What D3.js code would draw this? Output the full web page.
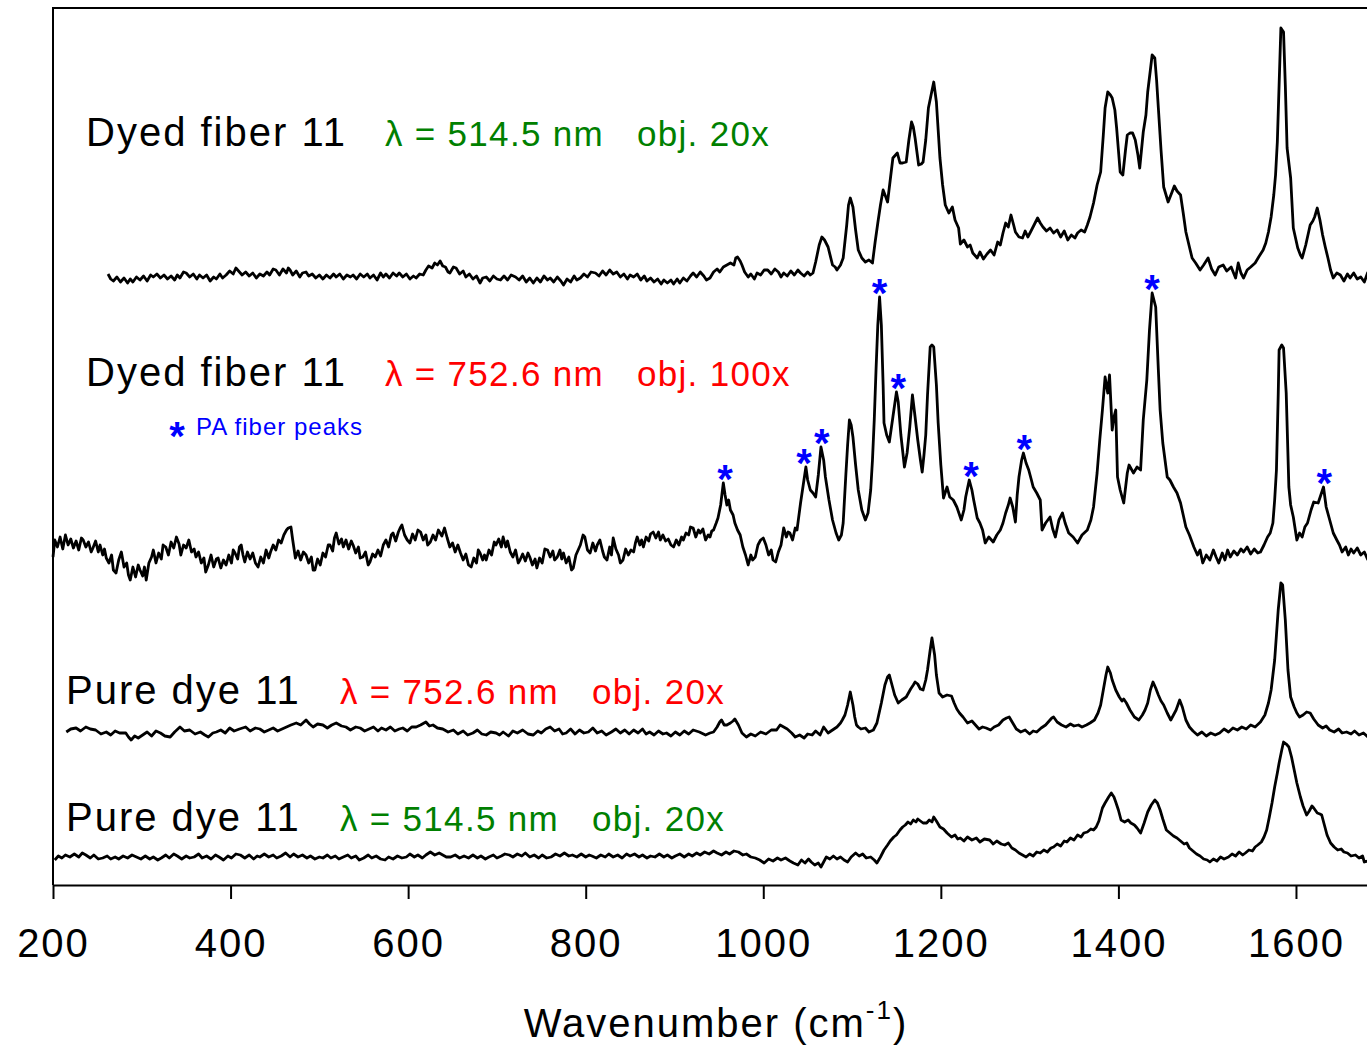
<!DOCTYPE html>
<html>
<head>
<meta charset="utf-8">
<script src="https://cdn.jsdelivr.net/npm/d3@7"></script>
<style>
  body { margin: 0; background: #fff; }
  svg { display: block; font-family: "Liberation Sans", Arial, sans-serif; }
</style>
</head>
<body>
<div id="chart"></div>
<script>
// x ticks (wavenumber, cm-1)
const xTicks = [200, 400, 600, 800, 1000, 1200, 1400, 1600];

// spectra: [wavenumber, intensity (arb. units, offset per trace)]
const fiber514 = [
  [262,611],[265,606],[268,604],[272,608],[276,603],[280,607],[284,602],[287,606],[290,603],[294,608],
  [298,605],[302,609],[306,604],[310,610],[313,608],[317,611],[321,607],[325,610],[329,606],[333,609],
  [337,605],[340,610],[343,607],[347,613],[350,612],[354,608],[358,611],[362,606],[365,610],[369,607],
  [373,610],[377,604],[381,608],[384,606],[388,611],[391,607],[395,610],[399,614],[403,611],[406,617],
  [409,614],[413,610],[417,613],[421,609],[425,612],[429,607],[433,611],[437,609],[441,613],[444,610],
  [448,616],[451,615],[455,610],[459,616],[463,612],[465,617],[467,615],[470,610],[474,614],[478,608],
  [481,612],[485,613],[488,609],[492,611],[496,607],[500,610],[504,606],[508,610],[512,607],[516,611],
  [519,608],[523,611],[527,606],[531,610],[535,608],[538,610],[542,606],[546,611],[550,608],[554,611],
  [557,607],[561,610],[565,605],[569,612],[572,608],[575,611],[579,607],[583,612],[587,609],[590,612],
  [594,608],[598,611],[602,606],[606,609],[609,607],[613,611],[617,610],[620,615],[623,619],[627,617],
  [630,622],[633,620],[636,624],[639,619],[642,618],[645,613],[647,612],[651,618],[654,617],[658,611],
  [662,614],[665,608],[669,611],[673,606],[677,609],[681,602],[684,607],[688,608],[692,604],[696,609],
  [700,606],[704,605],[708,609],[712,605],[716,610],[721,608],[725,605],[729,609],[733,603],[737,607],
  [741,602],[745,607],[749,603],[753,609],[757,605],[760,607],[764,603],[768,608],[772,604],[775,600],
  [779,606],[783,603],[787,609],[790,605],[794,607],[798,611],[802,608],[806,613],[811,612],[815,609],
  [819,614],[823,610],[827,615],[831,611],[835,613],[839,608],[843,611],[847,606],[850,610],[854,608],
  [858,611],[862,605],[866,609],[869,604],[873,607],[877,603],[881,606],[885,601],[888,605],[892,602],
  [896,605],[899,601],[903,606],[906,602],[910,607],[914,604],[918,609],[921,612],[925,608],[929,613],
  [933,609],[936,605],[940,607],[944,613],[948,616],[951,613],[955,618],[959,620],[963,622],[967,620],
  [969,627],[971,628],[974,624],[976,620],[979,613],[983,608],[986,611],[990,606],[993,612],[997,610],
  [1001,615],[1005,615],[1009,611],[1013,616],[1017,613],[1020,608],[1023,612],[1027,609],[1031,614],[1035,610],
  [1039,615],[1042,612],[1046,609],[1050,613],[1053,610],[1056,612],[1059,623],[1063,640],[1066,648],[1069,645],
  [1073,638],[1078,620],[1081,618],[1083,615],[1087,620],[1090,627],[1094,660],[1096,680],[1098,687],[1101,678],
  [1104,655],[1107,635],[1111,627],[1115,623],[1119,625],[1123,622],[1126,643],[1129,662],[1132,680],[1135,695],
  [1138,688],[1140,683],[1143,705],[1146,727],[1149,730],[1151,732],[1154,722],[1157,722],[1161,723],[1164,745],
  [1167,763],[1169,758],[1171,747],[1175,720],[1178,721],[1180,723],[1183,745],[1186,777],[1189,790],[1192,803],
  [1195,783],[1197,755],[1199,727],[1202,700],[1205,680],[1209,672],[1213,678],[1216,665],[1220,657],[1222,641],
  [1226,645],[1230,638],[1233,640],[1236,632],[1241,627],[1244,633],[1248,626],[1252,631],[1256,635],[1260,630],
  [1264,643],[1267,640],[1270,652],[1273,662],[1276,658],[1279,670],[1282,660],[1284,653],[1288,648],[1292,647],
  [1295,654],[1298,648],[1301,653],[1305,660],[1309,667],[1312,662],[1315,658],[1319,654],[1323,657],[1327,652],
  [1331,655],[1335,648],[1339,654],[1343,645],[1347,650],[1351,647],[1354,652],[1358,655],[1362,653],[1365,660],
  [1368,668],[1372,682],[1376,700],[1380,713],[1383,750],[1385,777],[1388,793],[1391,790],[1393,787],[1396,775],
  [1398,757],[1400,735],[1402,713],[1405,710],[1408,735],[1410,750],[1413,752],[1416,752],[1419,745],[1422,730],
  [1424,717],[1426,735],[1428,753],[1431,770],[1433,793],[1436,815],[1438,830],[1441,827],[1443,805],[1445,777],
  [1448,735],[1451,698],[1456,683],[1460,692],[1463,699],[1466,694],[1470,690],[1473,672],[1476,653],[1480,638],
  [1483,627],[1487,622],[1492,615],[1496,620],[1501,627],[1505,616],[1509,610],[1513,618],[1518,620],[1522,614],
  [1527,618],[1532,607],[1535,622],[1538,612],[1541,607],[1545,615],[1549,618],[1554,622],[1558,628],[1563,635],
  [1566,642],[1569,653],[1572,668],[1575,690],[1577,710],[1579,743],[1581,800],[1583,857],[1586,853],[1588,800],
  [1590,737],[1594,707],[1597,657],[1600,645],[1602,637],[1605,630],[1607,627],[1611,640],[1614,652],[1616,660],
  [1619,664],[1621,668],[1624,677],[1627,665],[1630,650],[1633,638],[1636,627],[1639,615],[1642,607],[1646,612],
  [1650,610],[1654,604],[1658,611],[1661,607],[1665,612],[1669,606],[1673,608],[1677,603],[1681,613]
];

const fiber752 = [
  [200,328],[202,345],[205,338],[208,348],[211,336],[214,350],[217,340],[220,346],[223,337],[226,344],
  [229,335],[232,347],[234,345],[237,338],[240,343],[243,333],[245,337],[248,344],[251,333],[253,340],
  [256,330],[258,336],[260,327],[263,322],[266,330],[268,315],[271,312],[274,325],[277,333],[280,318],
  [283,322],[285,310],[287,305],[290,318],[293,308],[296,320],[298,315],[301,309],[303,318],[305,305],
  [308,322],[311,328],[313,335],[316,322],[319,332],[322,326],[324,340],[327,338],[330,330],[333,343],
  [336,337],[339,348],[342,341],[344,330],[347,340],[350,337],[353,345],[356,333],[359,336],[361,328],
  [364,333],[367,322],[370,327],[372,313],[375,320],[378,330],[381,318],[384,326],[386,327],[389,317],
  [392,325],[395,320],[398,330],[401,322],[403,335],[405,332],[408,326],[410,338],[412,340],[414,330],
  [416,323],[419,333],[422,326],[425,332],[428,322],[431,318],[434,328],[437,322],[440,335],[443,327],
  [445,333],[448,340],[451,335],[454,345],[457,342],[460,350],[463,355],[465,357],[468,358],[470,345],
  [473,327],[476,334],[479,325],[482,333],[485,330],[488,322],[491,328],[493,315],[495,315],[498,326],
  [501,320],[504,332],[507,328],[510,340],[512,340],[515,334],[517,347],[519,352],[522,341],[525,346],
  [527,338],[530,345],[533,336],[536,344],[538,340],[541,332],[544,338],[546,327],[549,328],[552,333],
  [555,320],[557,323],[560,331],[563,328],[566,335],[569,329],[572,340],[575,345],[578,338],[581,350],
  [583,352],[586,344],[589,353],[591,357],[593,360],[596,350],[599,345],[602,342],[605,351],[608,345],
  [611,355],[614,353],[617,345],[620,350],[622,340],[625,343],[628,350],[631,345],[634,355],[638,349],
  [641,357],[644,347],[647,338],[650,342],[653,333],[656,340],[659,332],[662,325],[665,331],[668,320],
  [671,318],[674,327],[677,322],[679,335],[681,332],[684,325],[686,330],[688,325],[691,335],[694,330],
  [697,343],[699,340],[702,346],[705,338],[707,348],[710,338],[712,344],[715,333],[718,328],[721,335],
  [724,322],[726,325],[729,331],[732,324],[735,332],[737,328],[740,320],[743,326],[745,317],[748,327],
  [751,322],[754,336],[757,335],[760,328],[763,334],[765,325],[768,328],[771,335],[773,326],[775,332],
  [778,322],[781,328],[784,315],[786,317],[789,330],[792,336],[794,340],[797,350],[799,348],[802,335],
  [805,332],[808,342],[811,334],[813,340],[816,345],[819,334],[821,328],[824,325],[827,338],[829,330],
  [831,347],[834,336],[837,330],[839,322],[842,325],[845,336],[848,330],[851,335],[854,333],[856,342],
  [858,348],[861,340],[863,345],[865,338],[868,348],[871,344],[873,351],[876,353],[879,347],[882,353],
  [884,345],[887,350],[890,344],[893,346],[896,340],[899,338],[902,345],[905,340],[908,348],[910,345],
  [913,352],[916,350],[918,358],[921,357],[924,348],[927,355],[929,352],[932,356],[935,345],[938,350],
  [940,348],[942,354],[944,355],[947,362],[949,367],[952,380],[955,402],[957,390],[959,380],[961,385],
  [963,375],[966,370],[968,362],[971,355],[974,350],[977,338],[980,330],[983,320],[986,330],[988,325],
  [991,328],[993,336],[994,340],[997,345],[1000,347],[1003,340],[1006,330],[1009,335],[1011,325],[1014,323],
  [1017,333],[1020,340],[1023,357],[1026,348],[1028,353],[1030,352],[1033,345],[1036,357],[1038,355],[1042,382],
  [1045,400],[1048,418],[1050,405],[1053,395],[1056,392],[1059,388],[1062,410],[1065,438],[1068,425],[1070,408],
  [1074,385],[1078,365],[1082,352],[1085,345],[1088,350],[1090,362],[1093,410],[1095,440],[1097,465],[1099,460],
  [1101,448],[1104,420],[1107,395],[1111,375],[1115,365],[1118,372],[1121,395],[1123,425],[1125,465],[1127,515],
  [1129,560],[1131,588],[1133,560],[1135,500],[1136,462],[1139,450],[1142,443],[1146,468],[1150,493],[1152,483],
  [1155,450],[1159,418],[1162,432],[1165,458],[1168,490],[1171,468],[1174,445],[1177,425],[1179,413],[1181,430],
  [1183,450],[1185,490],[1188,538],[1190,540],[1192,538],[1195,500],[1197,462],[1200,420],[1203,387],[1207,398],
  [1210,388],[1214,385],[1218,378],[1223,365],[1226,375],[1228,388],[1232,405],[1235,395],[1237,385],[1241,367],
  [1244,362],[1247,355],[1250,342],[1254,348],[1259,343],[1263,350],[1267,355],[1270,362],[1273,372],[1276,380],
  [1278,387],[1281,378],[1284,363],[1286,390],[1288,408],[1291,425],[1293,432],[1296,422],[1299,415],[1302,405],
  [1304,398],[1308,392],[1312,385],[1314,355],[1318,362],[1323,368],[1326,356],[1329,348],[1333,365],[1337,372],
  [1340,362],[1344,352],[1349,348],[1354,342],[1359,350],[1365,355],[1369,365],[1372,378],[1376,412],[1379,445],
  [1382,475],[1385,508],[1388,492],[1390,510],[1393,455],[1395,468],[1397,475],[1399,408],[1402,395],[1406,382],
  [1410,412],[1412,420],[1417,412],[1421,418],[1425,415],[1428,465],[1432,505],[1435,555],[1438,592],[1442,578],
  [1445,515],[1447,475],[1450,442],[1455,408],[1458,405],[1462,398],[1466,392],[1470,382],[1473,370],[1476,358],
  [1480,350],[1485,338],[1489,330],[1492,335],[1495,322],[1499,330],[1503,325],[1507,335],[1510,328],[1513,322],
  [1517,332],[1520,325],[1523,335],[1526,328],[1530,334],[1534,330],[1538,336],[1541,333],[1545,338],[1549,331],
  [1553,336],[1557,332],[1560,333],[1564,340],[1568,348],[1571,352],[1574,362],[1576,385],[1578,415],[1580,490],
  [1581,535],[1584,540],[1586,537],[1589,492],[1592,398],[1594,380],[1597,368],[1601,345],[1604,352],[1607,348],
  [1610,358],[1613,362],[1617,375],[1620,383],[1625,382],[1628,390],[1631,398],[1634,378],[1638,365],[1642,352],
  [1646,345],[1649,340],[1652,333],[1656,338],[1659,330],[1662,336],[1665,332],[1669,337],[1673,330],[1677,333],
  [1681,325]
];

const dye752 = [
  [215,153],[220,156],[226,157],[231,154],[237,158],[242,156],[248,155],[254,151],[260,153],[265,150],
  [270,154],[275,152],[282,152],[285,148],[288,145],[292,149],[296,147],[301,150],[306,153],[311,149],
  [316,154],[321,152],[326,149],[332,148],[337,153],[343,158],[348,154],[354,155],[360,151],[366,153],
  [371,150],[375,148],[380,152],[384,153],[389,155],[394,152],[399,157],[404,154],[410,156],[417,158],
  [422,154],[428,157],[433,156],[438,153],[443,155],[448,157],[453,154],[458,156],[463,158],[468,160],
  [474,162],[479,160],[485,165],[489,161],[493,158],[498,161],[504,160],[509,157],[514,160],[519,162],
  [525,159],[530,158],[535,155],[541,158],[546,157],[551,154],[556,156],[561,158],[566,154],[570,157],
  [575,155],[580,158],[585,154],[590,156],[594,157],[599,154],[604,158],[609,158],[614,160],[620,163],
  [624,159],[628,160],[633,157],[639,156],[645,153],[651,155],[656,151],[662,154],[667,150],[673,152],
  [678,155],[683,151],[688,150],[693,153],[699,152],[703,150],[707,153],[713,149],[718,154],[723,152],
  [729,155],[735,151],[741,150],[746,154],[750,152],[755,156],[760,158],[765,154],[770,156],[774,151],
  [778,152],[783,156],[788,151],[793,155],[798,152],[803,153],[808,157],[813,152],[818,154],[823,150],
  [829,153],[834,156],[839,152],[844,155],[849,151],[854,155],[859,152],[864,156],[868,151],[872,153],
  [877,150],[882,154],[887,151],[891,152],[896,149],[901,153],[906,150],[911,154],[916,151],[921,155],
  [928,153],[935,150],[940,152],[944,153],[948,158],[951,163],[953,165],[956,160],[959,160],[963,162],
  [966,164],[968,166],[972,160],[976,152],[981,148],[986,151],[991,149],[997,153],[1003,151],[1009,155],
  [1015,155],[1019,160],[1023,158],[1027,156],[1032,152],[1036,148],[1041,150],[1046,147],[1050,151],[1055,150],
  [1059,154],[1064,150],[1068,158],[1073,152],[1078,155],[1083,158],[1087,162],[1089,165],[1092,170],[1095,180],
  [1098,193],[1101,180],[1103,168],[1105,160],[1107,158],[1110,156],[1115,157],[1119,153],[1124,155],[1128,162],
  [1133,182],[1137,200],[1140,208],[1142,210],[1145,200],[1148,190],[1152,182],[1156,185],[1161,188],[1166,196],
  [1169,200],[1171,203],[1174,201],[1177,196],[1180,195],[1183,205],[1185,215],[1188,235],[1190,247],[1193,230],
  [1195,210],[1198,192],[1202,188],[1207,190],[1212,189],[1215,182],[1218,176],[1221,172],[1225,168],[1230,162],
  [1235,164],[1239,160],[1243,156],[1247,158],[1251,157],[1256,155],[1260,158],[1265,160],[1270,165],[1274,167],
  [1277,168],[1281,162],[1285,156],[1290,153],[1295,155],[1300,151],[1304,154],[1308,153],[1313,157],[1318,160],
  [1322,164],[1325,167],[1327,168],[1331,163],[1336,160],[1341,158],[1346,161],[1350,159],[1355,160],[1359,158],
  [1364,160],[1368,162],[1373,165],[1377,172],[1380,180],[1383,195],[1386,210],[1388,218],[1391,212],[1393,205],
  [1397,195],[1401,188],[1404,184],[1406,186],[1409,182],[1413,175],[1418,168],[1423,165],[1427,170],[1430,175],
  [1433,182],[1436,195],[1439,203],[1442,197],[1445,190],[1448,184],[1451,180],[1455,172],[1459,165],[1462,170],
  [1465,175],[1469,185],[1472,178],[1476,165],[1480,158],[1484,154],[1489,150],[1494,153],[1499,149],[1504,152],
  [1509,150],[1514,152],[1519,156],[1524,153],[1529,157],[1534,155],[1539,158],[1544,156],[1549,160],[1554,158],
  [1560,163],[1565,170],[1569,182],[1572,195],[1574,210],[1576,225],[1578,250],[1580,275],[1583,302],[1585,300],
  [1588,265],[1591,215],[1594,188],[1598,178],[1601,172],[1604,168],[1608,170],[1612,173],[1616,172],[1620,166],
  [1625,160],[1630,157],[1634,159],[1638,155],[1643,153],[1648,156],[1652,152],[1657,153],[1662,151],[1666,154],
  [1671,150],[1676,152],[1681,148]
];

const dye514 = [
  [202,25],[206,29],[210,27],[214,30],[219,28],[224,31],[229,28],[233,32],[237,30],[242,27],
  [246,30],[251,26],[256,27],[261,29],[265,26],[270,28],[274,26],[279,29],[284,27],[289,30],
  [294,28],[299,26],[304,29],[309,26],[313,28],[318,25],[322,27],[327,30],[331,27],[336,31],
  [340,29],[345,26],[350,29],[354,27],[359,28],[364,31],[368,27],[373,29],[378,26],[383,30],
  [387,28],[392,25],[397,29],[401,27],[406,31],[411,30],[416,27],[421,30],[426,26],[430,29],
  [433,28],[438,31],[443,28],[448,30],[452,27],[457,29],[462,32],[467,28],[471,31],[476,28],
  [481,30],[486,27],[490,29],[495,26],[500,28],[504,27],[509,30],[513,27],[518,29],[522,26],
  [527,28],[532,30],[536,27],[541,29],[545,25],[550,27],[555,30],[559,27],[564,29],[569,26],
  [574,25],[578,28],[583,26],[588,29],[593,27],[598,28],[602,31],[607,28],[611,30],[616,27],
  [620,30],[625,33],[630,30],[635,32],[639,30],[643,28],[648,28],[653,30],[658,27],[663,29],
  [668,27],[673,30],[678,27],[682,29],[687,26],[691,28],[696,30],[700,27],[705,29],[709,31],
  [714,30],[718,28],[723,31],[728,29],[732,32],[737,28],[742,30],[747,27],[751,30],[756,27],
  [761,28],[766,31],[771,29],[776,32],[781,29],[785,30],[790,28],[795,31],[800,28],[804,30],
  [807,29],[812,27],[817,30],[822,28],[826,31],[831,28],[836,30],[841,27],[846,31],[850,29],
  [855,31],[860,28],[864,30],[869,27],[873,29],[878,28],[883,31],[888,28],[892,30],[897,27],
  [901,29],[906,31],[911,28],[916,31],[920,29],[925,32],[929,30],[934,33],[939,31],[944,34],
  [948,32],[953,30],[958,33],[962,31],[967,34],[972,33],[977,30],[981,31],[986,28],[991,27],
  [996,25],[1001,22],[1006,26],[1011,24],[1016,27],[1020,25],[1025,27],[1030,24],[1034,22],[1039,20],
  [1043,25],[1047,22],[1051,26],[1054,23],[1058,20],[1062,22],[1065,18],[1068,23],[1071,28],[1075,26],
  [1079,29],[1083,26],[1087,28],[1091,25],[1095,23],[1099,28],[1104,32],[1108,29],[1112,31],[1116,27],
  [1121,28],[1125,25],[1128,22],[1132,28],[1136,35],[1140,40],[1143,44],[1147,48],[1150,50],[1154,55],
  [1157,58],[1160,60],[1163,63],[1166,61],[1169,65],[1172,63],[1174,66],[1177,64],[1180,62],[1184,62],
  [1187,65],[1190,63],[1192,68],[1195,64],[1199,58],[1203,56],[1207,52],[1212,48],[1216,50],[1219,46],
  [1222,47],[1226,44],[1230,48],[1235,45],[1240,47],[1244,43],[1249,46],[1255,45],[1259,41],[1263,44],
  [1268,41],[1272,40],[1276,42],[1280,37],[1284,35],[1288,32],[1292,30],[1296,28],[1300,31],[1304,29],
  [1308,33],[1312,32],[1316,35],[1320,33],[1324,37],[1327,38],[1331,41],[1335,39],[1339,44],[1342,43],
  [1346,47],[1350,45],[1354,50],[1358,48],[1361,52],[1365,53],[1369,56],[1372,55],[1375,58],[1378,64],
  [1382,77],[1385,82],[1389,88],[1392,92],[1395,88],[1397,83],[1400,75],[1403,65],[1407,63],[1411,65],
  [1414,62],[1418,60],[1421,57],[1425,52],[1429,62],[1433,73],[1437,80],[1441,85],[1444,82],[1447,75],
  [1450,66],[1454,55],[1458,52],[1462,49],[1466,47],[1470,44],[1474,41],[1477,42],[1480,37],[1484,34],
  [1488,31],[1492,29],[1496,26],[1500,25],[1503,23],[1507,26],[1511,24],[1515,28],[1519,26],[1524,28],
  [1528,31],[1532,29],[1536,33],[1540,30],[1543,32],[1547,35],[1551,34],[1554,38],[1557,40],[1561,43],
  [1564,48],[1567,55],[1570,68],[1573,82],[1576,98],[1579,112],[1581,122],[1584,135],[1586,143],[1589,141],
  [1592,138],[1595,128],[1598,115],[1601,102],[1605,88],[1608,79],[1612,70],[1615,74],[1618,79],[1620,77],
  [1624,72],[1627,71],[1629,70],[1632,60],[1635,50],[1639,42],[1643,38],[1647,35],[1651,36],[1654,33],
  [1658,32],[1662,29],[1667,30],[1671,27],[1675,29],[1677,23],[1681,24]
];

// PA fiber peaks marked with * on the 752.6 nm fiber spectrum
const paPeaks = [957, 1046, 1066, 1131, 1152, 1234, 1294, 1438, 1632];

const traceNames = ["Dyed fiber 11", "Dyed fiber 11", "Pure dye 11", "Pure dye 11"];
const traceLaser = ["\u03bb = 514.5 nm", "\u03bb = 752.6 nm", "\u03bb = 752.6 nm", "\u03bb = 514.5 nm"];
const traceObj = ["obj. 20x", "obj. 100x", "obj. 20x", "obj. 20x"];
const legendText = "PA fiber peaks";
const xTitle = "Wavenumber (cm";

const width = 1367, height = 1046;
const margin = { top: 8, right: 0, bottom: 161, left: 53 };
const laserColor = { "\u03bb = 514.5 nm": "#008000", "\u03bb = 752.6 nm": "#ff0000" };

const svg = d3.select("#chart").append("svg")
  .attr("width", width).attr("height", height);

const x = d3.scaleLinear().domain([200, 1680]).range([margin.left, width - margin.right]);
const y = d3.scaleLinear().domain([0, 877]).range([height - margin.bottom, margin.top]);

// frame: left + top
svg.append("path")
  .attr("d", `M${x(200)},${y(0)}V${y(877)}H${width}`)
  .attr("fill", "none").attr("stroke", "#000").attr("stroke-width", 2);

// x axis
const xAxis = svg.append("g")
  .attr("transform", `translate(0,${y(0)})`)
  .call(d3.axisBottom(x).tickValues(xTicks).tickFormat(d3.format("d"))
    .tickSize(14).tickSizeOuter(0).tickPadding(30));
xAxis.select(".domain").attr("stroke-width", 2);
xAxis.selectAll(".tick line").attr("stroke-width", 2);
xAxis.selectAll(".tick text")
  .attr("font-family", "'Liberation Sans', Arial, sans-serif")
  .attr("font-size", 40).attr("letter-spacing", "2px").attr("fill", "#000");

// axis title with superscript
const title = svg.append("text")
  .attr("x", 716).attr("y", 1037)
  .attr("text-anchor", "middle")
  .attr("font-size", 40).attr("letter-spacing", "2px");
title.append("tspan").text(xTitle);
title.append("tspan").attr("font-size", 26).attr("dy", -18).text("-1");
title.append("tspan").attr("dy", 18).text(")");

// spectra
const line = d3.line().x(d => x(d[0])).y(d => y(d[1]));
[fiber514, fiber752, dye752, dye514].forEach(s => {
  svg.append("path")
    .datum(s)
    .attr("d", line)
    .attr("fill", "none")
    .attr("stroke", "#000")
    .attr("stroke-width", 2.8)
    .attr("stroke-linejoin", "round");
});

// peak asterisks
const starSize = 40;
paPeaks.forEach(p => {
  const near = fiber752.filter(d => Math.abs(d[0] - p) <= 8);
  const top = d3.max(near, d => d[1]);
  svg.append("text")
    .attr("x", x(p)).attr("y", y(top) - 13)
    .attr("dy", 0.58 * starSize)
    .attr("text-anchor", "middle")
    .attr("font-size", starSize).attr("font-weight", "bold")
    .attr("fill", "#0000ff")
    .text("*");
});

// trace labels
const labelPos = [
  { nx: 86, lx: 385, ox: 637, by: 146 },
  { nx: 86, lx: 385, ox: 637, by: 386 },
  { nx: 66, lx: 340, ox: 592, by: 704 },
  { nx: 66, lx: 340, ox: 592, by: 831 }
];
labelPos.forEach((p, i) => {
  svg.append("text")
    .attr("x", p.nx).attr("y", p.by)
    .attr("font-size", 40).attr("letter-spacing", "2px")
    .text(traceNames[i]);
  const c = laserColor[traceLaser[i]];
  svg.append("text")
    .attr("x", p.lx).attr("y", p.by)
    .attr("font-size", 35).attr("letter-spacing", "1.3px")
    .attr("fill", c)
    .text(traceLaser[i]);
  svg.append("text")
    .attr("x", p.ox).attr("y", p.by)
    .attr("font-size", 35).attr("letter-spacing", "1.3px")
    .attr("fill", c)
    .text(traceObj[i]);
});

// legend
svg.append("text")
  .attr("x", 177).attr("y", 427).attr("dy", 0.58 * starSize)
  .attr("text-anchor", "middle")
  .attr("font-size", starSize).attr("font-weight", "bold")
  .attr("fill", "#0000ff").text("*");
svg.append("text")
  .attr("x", 196).attr("y", 435)
  .attr("font-size", 24).attr("letter-spacing", "1px")
  .attr("fill", "#0000ff").text(legendText);
</script>
</body>
</html>
